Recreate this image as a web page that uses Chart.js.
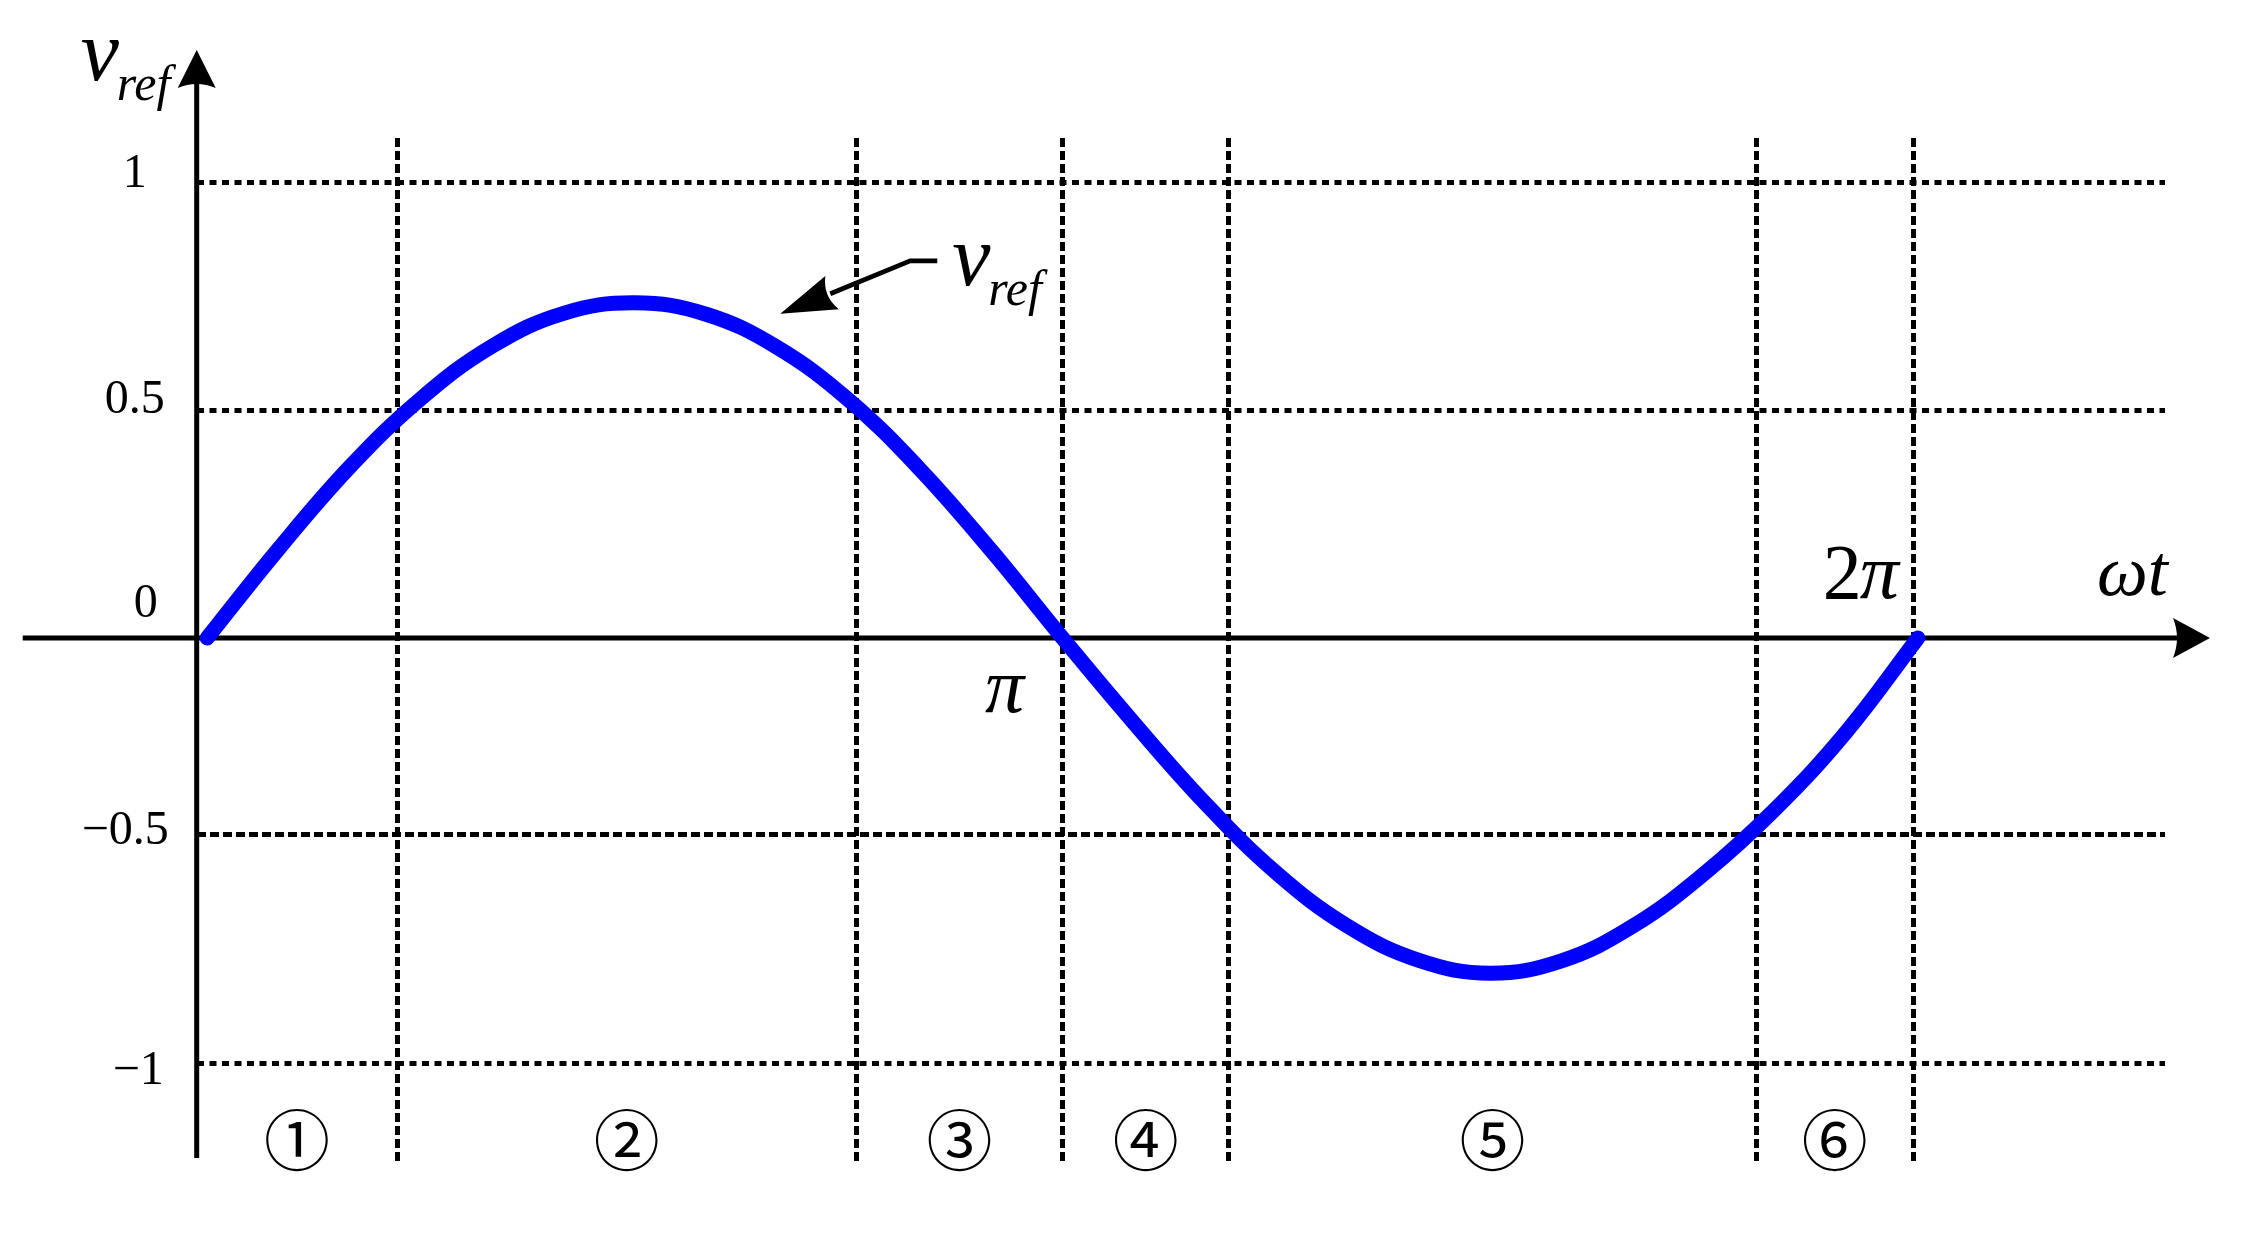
<!DOCTYPE html>
<html>
<head>
<meta charset="utf-8">
<script src="https://cdn.jsdelivr.net/npm/chart.js@4.4.1/dist/chart.umd.min.js"></script>
<style>
  html, body { margin: 0; padding: 0; background: #fff; }
</style>
</head>
<body>
<canvas id="chart" width="2263" height="1233"></canvas>
<script>
// omega*t in degrees, v_ref
const wtDeg = [0, 15, 30, 45, 60, 75, 90, 105, 120, 135, 150, 165, 180,
  195, 210, 225, 240, 255, 270, 285, 300, 315, 330, 345, 360];
const vRef = [0, 0.195, 0.375, 0.525, 0.64, 0.712, 0.735, 0.71, 0.637, 0.522, 0.37, 0.192, 0,
  -0.186, -0.362, -0.515, -0.632, -0.707, -0.735, -0.708, -0.632, -0.517, -0.375, -0.205, 0];

// vertical sector boundaries (degrees)
const sectorBounds = [40, 136.6, 180, 215, 326, 359];
const sectorLabels = ["\u2460", "\u2461", "\u2462", "\u2463", "\u2464", "\u2465"];

// the figure draws the lower gridlines closer to the axis than the upper ones
const yGridValues = [1, 0.498, -0.432, -0.934];
const yTickValues = [1, 0.498, 0, -0.432, -0.934];
const yTickLabels = ["1", "0.5", "0", "\u22120.5", "\u22121"];

const serif = '"Liberation Serif", "Times New Roman", serif';

function arrowHead(ctx, tx, ty, dx, dy, len, half, notch) {
  const px = -dy, py = dx;
  const bx = tx - dx * len, by = ty - dy * len;
  ctx.beginPath();
  ctx.moveTo(tx, ty);
  ctx.lineTo(bx + px * half, by + py * half);
  ctx.quadraticCurveTo(bx + dx * notch * 2, by + dy * notch * 2, bx - px * half, by - py * half);
  ctx.closePath();
  ctx.fill();
}

// axes with arrows, under the curve
const axesPlugin = {
  id: "axes",
  beforeDatasetsDraw(chart) {
    const { ctx, chartArea } = chart;
    const ay = chart.scales.y.getPixelForValue(0);
    const ax = chartArea.left;
    ctx.save();
    ctx.strokeStyle = "#000";
    ctx.fillStyle = "#000";
    ctx.lineWidth = 5;
    ctx.beginPath();
    ctx.moveTo(chartArea.left - 174, ay);
    ctx.lineTo(chartArea.right + 15, ay);
    ctx.moveTo(ax, chartArea.bottom - 5);
    ctx.lineTo(ax, chartArea.top - 60);
    ctx.stroke();
    arrowHead(ctx, chartArea.right + 45, ay, 1, 0, 37, 20, 4);
    arrowHead(ctx, ax, chartArea.top - 88, 0, -1, 38, 19, 4);
    ctx.restore();
  }
};

// texts and the v_ref pointer
const textPlugin = {
  id: "texts",
  afterDraw(chart) {
    const { ctx, chartArea } = chart;
    const xs = chart.scales.x, ys = chart.scales.y;
    const X = v => xs.getPixelForValue(v);
    const Y = v => ys.getPixelForValue(v);
    const ax = chartArea.left, ay = Y(0);
    ctx.save();
    ctx.fillStyle = "#000";
    ctx.strokeStyle = "#000";

    // y tick labels
    const nudge = [[-18, 5], [0, 2.5], [-7, -21.5], [4, 9.5], [-1, 20]];
    ctx.font = "48px " + serif;
    ctx.textAlign = "right";
    ctx.textBaseline = "alphabetic";
    yTickValues.forEach((v, i) => {
      ctx.fillText(yTickLabels[i], ax - 32 + nudge[i][0], Y(v) + nudge[i][1]);
    });

    // y axis title v_ref
    ctx.textAlign = "left";
    ctx.font = "italic 86px " + serif;
    ctx.fillText("v", ax - 116, chartArea.top - 58);
    ctx.font = "italic 50px " + serif;
    ctx.fillText("ref", ax - 80, chartArea.top - 38);

    // x axis marks
    ctx.font = "italic 78px " + serif;
    ctx.textAlign = "center";
    ctx.fillText("\u03c0", X(180) - 58, ay + 74);
    ctx.textAlign = "right";
    const px2 = X(360) - 19;
    ctx.fillText("\u03c0", px2, ay - 40);
    const piW = ctx.measureText("\u03c0").width;
    ctx.font = "78px " + serif;
    ctx.fillText("2", px2 - piW + 2, ay - 40);
    ctx.textAlign = "left";
    ctx.font = "italic 72px " + serif;
    ctx.fillText("\u03c9t", chartArea.right - 68, ay - 43);

    // pointer to the curve
    const tx = X(120.6), ty = Y(0.711);
    ctx.lineWidth = 4.7;
    ctx.beginPath();
    ctx.moveTo(tx + 157, ty - 53);
    ctx.lineTo(tx + 130, ty - 53);
    ctx.lineTo(tx + 50, ty - 20);
    ctx.stroke();
    const d = Math.hypot(130, 53);
    arrowHead(ctx, tx, ty, -130 / d, 53 / d, 56, 18, 5);
    ctx.font = "italic 86px " + serif;
    ctx.fillText("v", tx + 172, ty - 29);
    ctx.font = "italic 50px " + serif;
    ctx.fillText("ref", tx + 208, ty - 9);

    // sector numbers
    const edges = [ax].concat(sectorBounds.map(X));
    ctx.font = '66px "Noto Sans CJK KR", "Noto Sans CJK JP", sans-serif';
    ctx.textAlign = "center";
    ctx.textBaseline = "middle";
    sectorLabels.forEach((s, i) => {
      ctx.fillText(s, (edges[i] + edges[i + 1]) / 2, chartArea.bottom - 23);
    });
    ctx.restore();
  }
};

const chart = new Chart(document.getElementById("chart"), {
  type: "line",
  data: {
    datasets: [{
      data: wtDeg.map((x, i) => ({ x: x, y: vRef[i] })),
      borderColor: "#0000ff",
      borderWidth: 15,
      borderCapStyle: "round",
      borderJoinStyle: "round",
      pointRadius: 0,
      tension: 0.4,
      clip: false,
    }],
  },
  options: {
    responsive: false,
    animation: false,
    devicePixelRatio: 1,
    layout: { padding: { left: 196.7, top: 138, right: 98, bottom: 70 } },
    plugins: { legend: { display: false }, tooltip: { enabled: false } },
    scales: {
      x: {
        type: "linear",
        min: -2.2,
        max: 412,
        z: 1,
        afterBuildTicks: (s) => { s.ticks = sectorBounds.map(v => ({ value: v })); },
        ticks: { display: false },
        grid: { color: "#000", lineWidth: 5, drawTicks: false },
        border: { display: false, dash: [9, 4] },
      },
      y: {
        type: "linear",
        min: -1.1513,
        max: 1.0965,
        z: 1,
        afterBuildTicks: (s) => { s.ticks = yGridValues.map(v => ({ value: v })); },
        ticks: { display: false },
        grid: { color: "#000", lineWidth: 5, drawTicks: false },
        border: {
          display: false,
          dash: (c) => (c.tick && c.tick.value === -0.432 ? [9, 4] : [7, 5.5]),
        },
      },
    },
  },
  plugins: [axesPlugin, textPlugin],
});
</script>
</body>
</html>
